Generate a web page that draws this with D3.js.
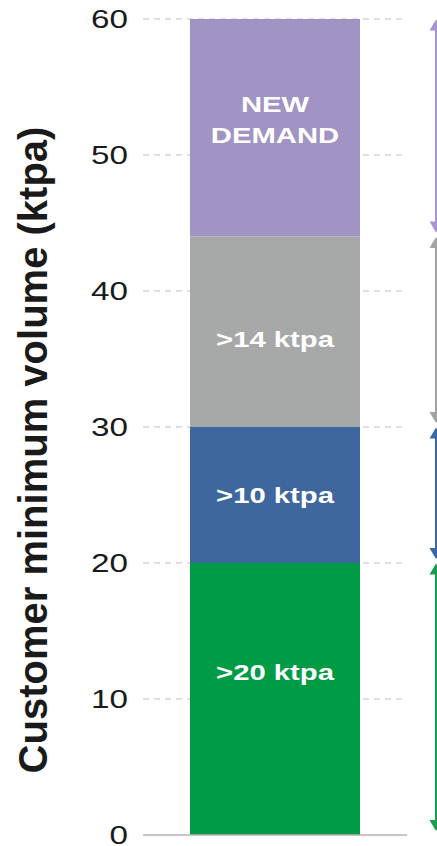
<!DOCTYPE html>
<html lang="en">
<head>
<meta charset="utf-8">
<title>Customer minimum volume</title>
<script src="https://cdnjs.cloudflare.com/ajax/libs/d3/7.8.5/d3.min.js"></script>
<style>
body { margin: 0; background: #fff; }
text { font-family: Arial, Helvetica, sans-serif; }
.grid line { stroke: #cdbdbd; stroke-width: 1; stroke-dasharray: 6,5; }
.seg-label { fill: #fff; font-weight: 700; font-size: 22px; }
.tick-label { fill: #1a1a1a; font-size: 25px; }
.y-title { fill: #1a1a1a; font-weight: 700; font-size: 40px; }
</style>
</head>
<body>
<div id="chart"></div>
<script>

const w = 437;
const h = 846;
const sx = 1.33; // the lettering is drawn wide

// stacked segments, bottom to top
const segNames = ["green", "blue", "grey", "purple"];
const segStart = [0, 20, 30, 44];
const segEnd = [20, 30, 44, 60];
const segColors = ["#009b45", "#3d679e", "#a7a9a9", "#a193c3"];
const arrowColors = ["#14a04c", "#3b67aa", "#a3a3a3", "#a893d4"];
const segLabels = [[">20 ktpa"], [">10 ktpa"], [">14 ktpa"], ["NEW", "DEMAND"]];
const labelAt = [12, 25, 36.5, 52.6];

const yTicks = [0, 10, 20, 30, 40, 50, 60];
const yTitle = "Customer minimum volume (ktpa)";

const y = d3.scaleLinear().domain([0, 60]).range([835, 19]);

const svg = d3.select("#chart")
   .append("svg")
   .attr("width", w)
   .attr("height", h);

// dashed gridlines
svg.append("g")
   .attr("class", "grid")
   .selectAll("line")
   .data(yTicks.filter(d => d > 0))
   .enter()
   .append("line")
   .attr("x1", 143)
   .attr("x2", 407)
   .attr("y1", d => y(d))
   .attr("y2", d => y(d));

// stacked bar
svg.selectAll(".seg")
   .data(segNames)
   .enter()
   .append("rect")
   .attr("class", "seg")
   .attr("x", 190)
   .attr("width", 170)
   .attr("y", (d, i) => y(segEnd[i]))
   .attr("height", (d, i) => y(segStart[i]) - y(segEnd[i]))
   .attr("fill", (d, i) => segColors[i]);

// baseline
svg.append("line")
   .attr("x1", 143)
   .attr("x2", 407)
   .attr("y1", y(0))
   .attr("y2", y(0))
   .attr("stroke", "#bcb1b1")
   .attr("stroke-width", 1.5);

// segment labels
segLabels.forEach((lines, i) => {
   const cy = y(labelAt[i]);
   const lh = 31;
   const t = svg.append("text")
      .attr("class", "seg-label")
      .attr("text-anchor", "middle")
      .attr("transform", "translate(275," + cy + ") scale(" + sx + ",1)");
   lines.forEach((s, j) => {
      t.append("tspan")
         .attr("x", 0)
         .attr("y", (j - (lines.length - 1) / 2) * lh + 8)
         .text(s);
   });
});

// tick labels
svg.selectAll(".tick-label")
   .data(yTicks)
   .enter()
   .append("text")
   .attr("class", "tick-label")
   .attr("text-anchor", "end")
   .attr("transform", d => "translate(128," + (y(d) + 9) + ") scale(" + sx + ",1)")
   .text(d => d);

// axis title
svg.append("text")
   .attr("class", "y-title")
   .attr("text-anchor", "middle")
   .attr("transform", "translate(47,450) rotate(-90)")
   .text(yTitle);

// range arrows on the right
const ax = 436;
segNames.forEach((d, i) => {
   const top = y(segEnd[i]) + 0.5;
   const bot = y(segStart[i]) - 4;
   const g = svg.append("g").attr("fill", arrowColors[i]);
   g.append("line")
      .attr("x1", ax).attr("x2", ax)
      .attr("y1", top + 8).attr("y2", bot - 8)
      .attr("stroke", arrowColors[i])
      .attr("stroke-width", 2);
   g.append("path")
      .attr("d", "M" + ax + "," + top + "L" + (ax + 6.5) + "," + (top + 11) + "L" + (ax - 6.5) + "," + (top + 11) + "Z");
   g.append("path")
      .attr("d", "M" + ax + "," + bot + "L" + (ax + 6.5) + "," + (bot - 11) + "L" + (ax - 6.5) + "," + (bot - 11) + "Z");
});

</script>
</body>
</html>
